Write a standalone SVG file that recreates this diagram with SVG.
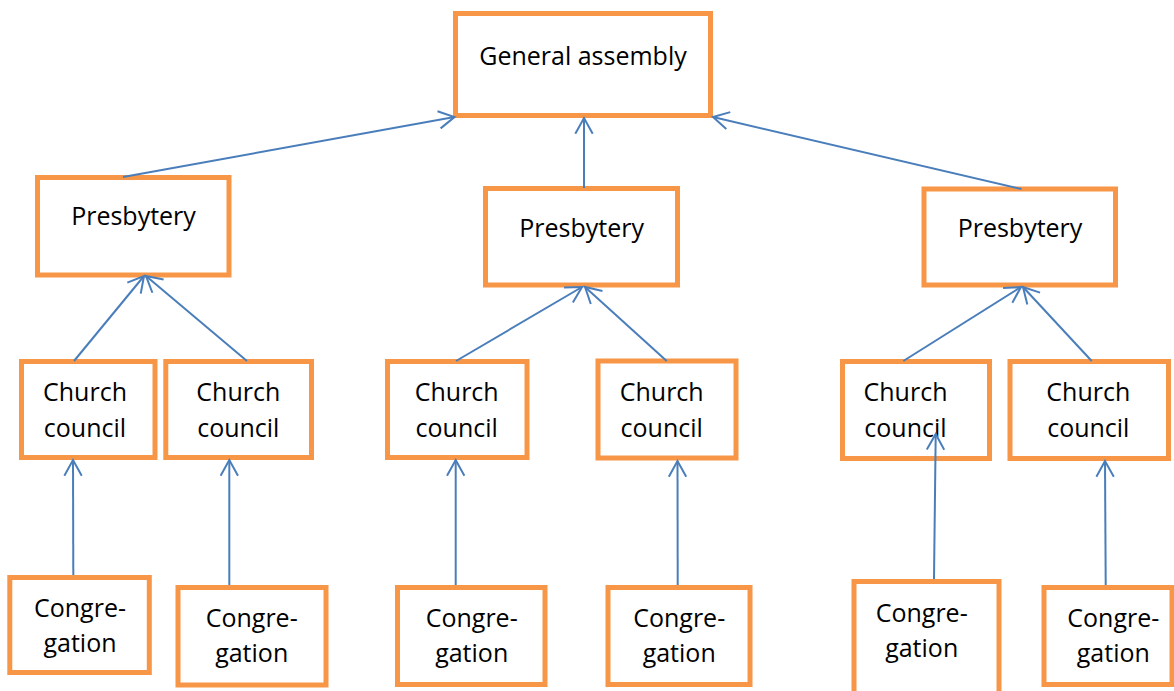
<svg xmlns="http://www.w3.org/2000/svg" width="1174" height="691" viewBox="0 0 1174 691">
<style>
.box{fill:#ffffff;stroke:#F79646;stroke-width:5}
.t{font-family:"Open Sans","Liberation Sans",sans-serif;font-size:25px;fill:#000000;text-anchor:middle}
.c{fill:none;stroke:#4A7EBB;stroke-width:2;marker-end:url(#arr)}
</style>
<defs>
<marker id="arr" markerUnits="userSpaceOnUse" viewBox="-20 -12 24 24" refX="0" refY="0" markerWidth="24" markerHeight="24" orient="auto" overflow="visible">
<path d="M-15.7,-8.7 L0,0 L-15.7,8.7" fill="none" stroke="#4A7EBB" stroke-width="2"/>
</marker>
</defs>
<rect width="1174" height="691" fill="#ffffff"/>
<g id="general-assembly"><rect class="box" x="455.5" y="13.5" width="255" height="102"/><text class="t" x="583" y="65">General assembly</text></g>
<g id="presbytery-1"><rect class="box" x="37.5" y="177.5" width="191.5" height="97.5"/><text class="t" x="133.5" y="225">Presbytery</text></g>
<g id="presbytery-2"><rect class="box" x="485.5" y="188.5" width="192" height="96.5"/><text class="t" x="581.7" y="236.7">Presbytery</text></g>
<g id="presbytery-3"><rect class="box" x="924" y="189" width="191.5" height="96"/><text class="t" x="1020" y="237">Presbytery</text></g>
<g id="council-1"><rect class="box" x="21.5" y="361.5" width="133.5" height="96"/><text class="t" x="85" y="400.7">Church</text><text class="t" x="85" y="436.7">council</text></g>
<g id="council-2"><rect class="box" x="165.8" y="361.5" width="145.7" height="96"/><text class="t" x="238.3" y="400.7">Church</text><text class="t" x="238.3" y="436.7">council</text></g>
<g id="council-3"><rect class="box" x="387.5" y="361.5" width="139.5" height="96"/><text class="t" x="456.7" y="400.7">Church</text><text class="t" x="456.7" y="436.7">council</text></g>
<g id="council-4"><rect class="box" x="598" y="361" width="138" height="97"/><text class="t" x="661.7" y="400.7">Church</text><text class="t" x="661.7" y="436.7">council</text></g>
<g id="council-5"><rect class="box" x="842.5" y="361.5" width="147" height="97"/><text class="t" x="905.5" y="400.7">Church</text><text class="t" x="905.5" y="436.7">council</text></g>
<g id="council-6"><rect class="box" x="1010" y="361.5" width="158.5" height="97"/><text class="t" x="1088.3" y="400.7">Church</text><text class="t" x="1088.3" y="436.7">council</text></g>
<g id="congregation-1"><rect class="box" x="9.8" y="577.5" width="139.5" height="95"/><text class="t" x="80" y="616.7">Congre-</text><text class="t" x="80" y="651.7">gation</text></g>
<g id="congregation-2"><rect class="box" x="178" y="587.5" width="148" height="97.5"/><text class="t" x="251.7" y="626.7">Congre-</text><text class="t" x="251.7" y="661.7">gation</text></g>
<g id="congregation-3"><rect class="box" x="397.5" y="587.5" width="147.5" height="97"/><text class="t" x="471.7" y="626.7">Congre-</text><text class="t" x="471.7" y="661.7">gation</text></g>
<g id="congregation-4"><rect class="box" x="608" y="587.5" width="142" height="97"/><text class="t" x="679.2" y="626.7">Congre-</text><text class="t" x="679.2" y="661.7">gation</text></g>
<g id="congregation-5"><rect class="box" x="854" y="581.5" width="145" height="115"/><text class="t" x="921.7" y="621.7">Congre-</text><text class="t" x="921.7" y="656.7">gation</text></g>
<g id="congregation-6"><rect class="box" x="1044" y="587.5" width="128" height="97"/><text class="t" x="1113.3" y="626.7">Congre-</text><text class="t" x="1113.3" y="661.7">gation</text></g>
<g id="connectors">
<line class="c" x1="123" y1="177" x2="454.5" y2="117"/>
<line class="c" x1="584" y1="188" x2="584" y2="118"/>
<line class="c" x1="1021.5" y1="189" x2="713" y2="117"/>
<line class="c" x1="74" y1="361" x2="144" y2="276"/>
<line class="c" x1="247" y1="361" x2="146" y2="276"/>
<line class="c" x1="456" y1="361" x2="582" y2="287"/>
<line class="c" x1="666.7" y1="361" x2="585" y2="287"/>
<line class="c" x1="903.3" y1="361" x2="1021" y2="287"/>
<line class="c" x1="1091.7" y1="361" x2="1023" y2="287"/>
<line class="c" x1="73.3" y1="575" x2="73" y2="460"/>
<line class="c" x1="229.3" y1="585" x2="229.3" y2="460"/>
<line class="c" x1="455.7" y1="585" x2="455.7" y2="460"/>
<line class="c" x1="677.7" y1="585" x2="677.5" y2="461"/>
<line class="c" x1="934" y1="579" x2="935.7" y2="434"/>
<line class="c" x1="1105.7" y1="585" x2="1105" y2="461"/>
</g>
</svg>
